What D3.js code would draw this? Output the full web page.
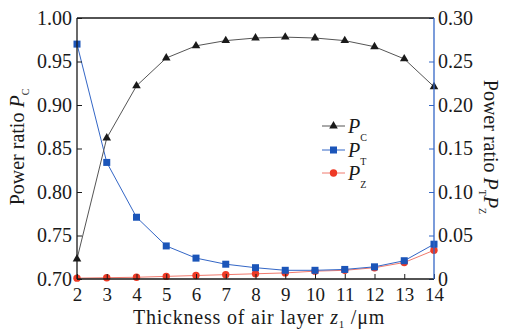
<!DOCTYPE html>
<html>
<head>
<meta charset="utf-8">
<script src="https://cdn.jsdelivr.net/npm/d3@7"></script>
<style>
  html, body { margin: 0; padding: 0; background: #fff; }
  svg { display: block; }
  text { font-family: "Liberation Serif", "DejaVu Serif", serif; fill: #1a1a1a; }
</style>
</head>
<body>
<svg id="chart" width="506" height="335"></svg>
<script>
// Thickness of the air layer z1 (µm)
const thickness = [2, 3, 4, 5, 6, 7, 8, 9, 10, 11, 12, 13, 14];
// Power ratios
const pC = [0.723, 0.862, 0.922, 0.954, 0.968, 0.974, 0.977, 0.978, 0.977, 0.974, 0.967, 0.953, 0.921];
const pT = [0.270, 0.134, 0.071, 0.038, 0.024, 0.017, 0.013, 0.010, 0.010, 0.011, 0.014, 0.021, 0.040];
const pZ = [0.001, 0.0015, 0.002, 0.003, 0.004, 0.005, 0.006, 0.007, 0.009, 0.010, 0.013, 0.019, 0.033];
// Tick labels
const xTicks = [2, 3, 4, 5, 6, 7, 8, 9, 10, 11, 12, 13, 14];
const leftTicks = [0.70, 0.75, 0.80, 0.85, 0.90, 0.95, 1.00];
const rightTicks = [0, 0.05, 0.10, 0.15, 0.20, 0.25, 0.30];

const svg = d3.select("#chart");
const L = 77, R = 434, T = 18, B = 279;
const fs = 20;

const x = d3.scaleLinear().domain([2, 14]).range([L, R]);
const yL = d3.scaleLinear().domain([0.70, 1.00]).range([B, T]);
const yR = d3.scaleLinear().domain([0, 0.30]).range([B, T]);

const black = "#1a1a1a", blue = "#3366c6", blueMark = "#1b55b9", red = "#f07a6e", redMark = "#ee3a26";

// Series lines and markers
const series = [
  { v: pC, y: yL, line: "#555", mark: black, shape: "tri" },
  { v: pT, y: yR, line: blue, mark: blueMark, shape: "sq" },
  { v: pZ, y: yR, line: red, mark: redMark, shape: "dot" }
];

function drawMarker(g, shape, cx, cy, color) {
  if (shape === "tri") {
    g.append("path").attr("d", d3.symbol(d3.symbolTriangle, 32)()).attr("transform", `translate(${cx},${cy})`).attr("fill", color);
  } else if (shape === "sq") {
    g.append("rect").attr("x", cx - 3.5).attr("y", cy - 3.5).attr("width", 7).attr("height", 7).attr("fill", color);
  } else {
    g.append("circle").attr("cx", cx).attr("cy", cy).attr("r", 3.7).attr("fill", color);
  }
}

const plot = svg.append("g");
series.slice().reverse().forEach(s => {
  const line = d3.line().x((d, i) => x(thickness[i])).y(d => s.y(d));
  plot.append("path").datum(s.v).attr("d", line).attr("fill", "none").attr("stroke", s.line).attr("stroke-width", 1);
  s.v.forEach((d, i) => drawMarker(plot, s.shape, x(thickness[i]), s.y(d), s.mark));
});

// Axes
const xAxis = svg.append("g").attr("transform", `translate(0,${B})`)
  .call(d3.axisBottom(x).tickValues(xTicks).tickSize(-5).tickPadding(9).tickFormat(d3.format("d")));
const lAxis = svg.append("g").attr("transform", `translate(${L},0)`)
  .call(d3.axisLeft(yL).tickValues(leftTicks).tickSize(-5).tickPadding(5).tickFormat(d3.format(".2f")));
const rAxis = svg.append("g").attr("transform", `translate(${R},0)`)
  .call(d3.axisRight(yR).tickValues(rightTicks).tickSize(-5).tickPadding(4).tickFormat(d => d === 0 ? "0" : d3.format(".2f")(d)));

[xAxis, lAxis, rAxis].forEach(a => {
  a.selectAll("text").attr("font-size", fs).attr("font-family", "Liberation Serif, serif").attr("fill", black);
  a.select(".domain").remove();
});
xAxis.selectAll("text").attr("font-size", 19);
xAxis.selectAll("line").attr("stroke", black);
lAxis.selectAll("line").attr("stroke", black);
rAxis.selectAll("line").attr("stroke", blue);

// Frame
svg.append("line").attr("x1", L).attr("x2", R).attr("y1", T).attr("y2", T).attr("stroke", black).attr("stroke-width", 1.3);
svg.append("line").attr("x1", L).attr("x2", R).attr("y1", B).attr("y2", B).attr("stroke", black).attr("stroke-width", 1.3);
svg.append("line").attr("x1", L).attr("x2", L).attr("y1", T).attr("y2", B).attr("stroke", black).attr("stroke-width", 1.3);
svg.append("line").attr("x1", R).attr("x2", R).attr("y1", T).attr("y2", B).attr("stroke", blue).attr("stroke-width", 1.3);

// Axis titles
const xt = svg.append("text").attr("x", 259).attr("y", 324).attr("text-anchor", "middle")
  .attr("font-size", fs).attr("letter-spacing", 0.8);
xt.append("tspan").text("Thickness of air layer ");
xt.append("tspan").attr("font-style", "italic").text("z");
xt.append("tspan").attr("font-size", 11).attr("dy", 4).text("1");
xt.append("tspan").attr("dy", -4).text(" /μm");

const lt = svg.append("text").attr("transform", "translate(24,147) rotate(-90)").attr("text-anchor", "middle").attr("font-size", fs);
lt.append("tspan").text("Power ratio ");
lt.append("tspan").attr("font-style", "italic").text("P");
lt.append("tspan").attr("font-size", 10).attr("dy", 5).text("C");

const rt = svg.append("text").attr("transform", "translate(484,147) rotate(90)").attr("text-anchor", "middle").attr("font-size", fs);
rt.append("tspan").text("Power ratio ");
rt.append("tspan").attr("font-style", "italic").text("P");
rt.append("tspan").attr("font-size", 10).attr("dy", 5).text("T");
rt.append("tspan").attr("font-style", "italic").attr("dy", -5).text("P");
rt.append("tspan").attr("font-size", 10).attr("dy", 5).text("Z");

// Legend
const legend = [
  { name: "C", s: series[0], cy: 126 },
  { name: "T", s: series[1], cy: 150 },
  { name: "Z", s: series[2], cy: 173 }
];
legend.forEach(d => {
  svg.append("line").attr("x1", 322).attr("x2", 345).attr("y1", d.cy).attr("y2", d.cy).attr("stroke", d.s.line).attr("stroke-width", 1);
  drawMarker(svg, d.s.shape, 333.5, d.cy, d.s.mark);
  const t = svg.append("text").attr("x", 348).attr("y", d.cy + 7).attr("font-size", fs);
  t.append("tspan").attr("font-style", "italic").text("P");
  t.append("tspan").attr("font-size", 10).attr("dy", 8).text(d.name);
});
</script>
</body>
</html>
